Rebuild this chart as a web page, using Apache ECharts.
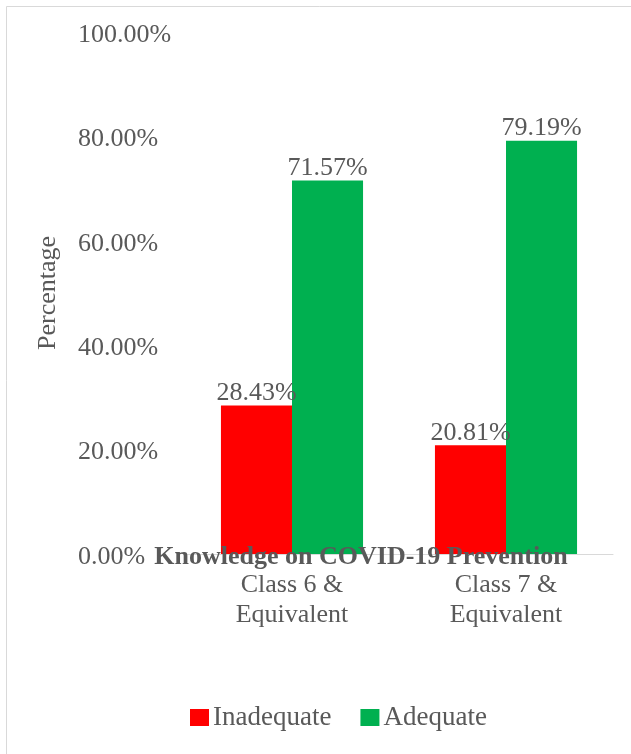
<!DOCTYPE html>
<html>
<head>
<meta charset="utf-8">
<script src="https://cdn.jsdelivr.net/npm/echarts@6/dist/echarts.min.js"></script>
<style>
  html, body { margin: 0; padding: 0; background: #fff; }
  #chart { width: 631px; height: 754px; }
</style>
</head>
<body>
<div id="chart"></div>
<script>
const categories = ['Class 6 &\nEquivalent', 'Class 7 &\nEquivalent'];
const inadequate = [28.43, 20.81];
const adequate = [71.57, 79.19];
const seriesNames = ['Inadequate', 'Adequate'];
const chartTitle = 'Knowledge on COVID-19 Prevention';
const yAxisName = 'Percentage';

const FONT = '"Liberation Serif", "Times New Roman", serif';
const GRAY = '#595959';

const chart = echarts.init(document.getElementById('chart'), null, { renderer: 'canvas' });
chart.setOption({
  backgroundColor: '#fff',
  animation: false,
  textStyle: { fontFamily: FONT },
  graphic: [{
    type: 'rect',
    shape: { x: 6.5, y: 6.5, width: 1000, height: 1000 },
    style: { fill: 'none', stroke: '#d9d9d9', lineWidth: 1 },
    silent: true
  }],
  title: {
    text: chartTitle,
    left: 356,
    textAlign: 'center',
    top: 539,
    textStyle: { fontFamily: FONT, fontSize: 26, fontWeight: 'bold', color: GRAY }
  },
  grid: { left: 185, right: 18, top: 32, bottom: 200, containLabel: false },
  legend: {
    data: seriesNames,
    left: 185,
    top: 699,
    itemWidth: 19,
    itemHeight: 17,
    itemGap: 29,
    icon: 'rect',
    textStyle: { fontFamily: FONT, fontSize: 27, color: GRAY, padding: [0, 0, 0, -1] }
  },
  xAxis: {
    type: 'category',
    data: categories,
    axisLine: { show: true, lineStyle: { color: '#d9d9d9', width: 1 } },
    axisTick: { show: false },
    axisLabel: { fontFamily: FONT, fontSize: 26, color: GRAY, lineHeight: 30, margin: 16, interval: 0 }
  },
  yAxis: {
    type: 'value',
    min: 0,
    max: 100,
    interval: 20,
    name: yAxisName,
    nameLocation: 'middle',
    nameGap: 124,
    nameTextStyle: { fontFamily: FONT, fontSize: 26, color: GRAY },
    axisLine: { show: false },
    axisTick: { show: false },
    splitLine: { show: false },
    axisLabel: {
      fontFamily: FONT, fontSize: 26, color: GRAY,
      align: 'left', margin: 107,
      formatter: v => '{t|' + v.toFixed(2) + '%}',
      rich: { t: { fontFamily: FONT, fontSize: 26, color: GRAY, padding: [6, 0, 0, 0] } }
    }
  },
  series: [
    {
      name: seriesNames[0],
      type: 'bar',
      data: inadequate,
      barGap: '0%',
      barCategoryGap: '33.6%',
      itemStyle: { color: '#FF0000' },
      label: { show: true, position: 'top', distance: -1, fontFamily: FONT, fontSize: 26, color: GRAY, formatter: p => p.value.toFixed(2) + '%' }
    },
    {
      name: seriesNames[1],
      type: 'bar',
      data: adequate,
      barGap: '0%',
      barCategoryGap: '33.6%',
      itemStyle: { color: '#00B050' },
      label: { show: true, position: 'top', distance: -1, fontFamily: FONT, fontSize: 26, color: GRAY, formatter: p => p.value.toFixed(2) + '%' }
    }
  ]
});
</script>
</body>
</html>
